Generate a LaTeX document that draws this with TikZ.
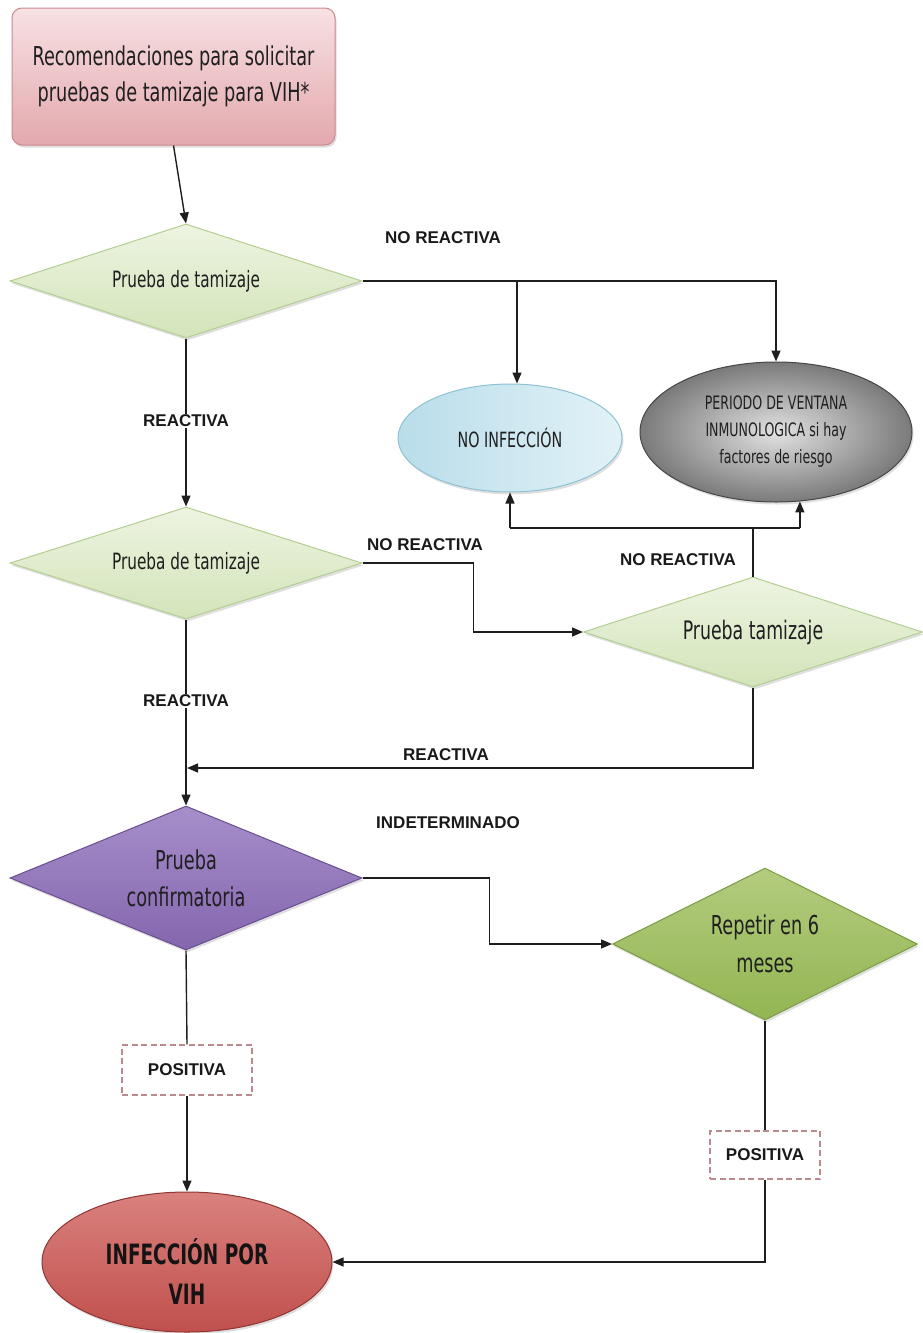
\documentclass[tikz,border=0pt]{standalone}
\usepackage{fontspec}
\setmainfont{DejaVu Sans}
\newfontfamily\condf[FakeStretch=0.68]{DejaVu Sans}
\newfontfamily\condbf[FakeStretch=0.66]{DejaVu Sans Bold}
\newfontfamily\lblf{Liberation Sans}
\usetikzlibrary{shapes.geometric,arrows.meta,shadows}
\definecolor{pinktop}{HTML}{F7E1E3}
\definecolor{pinkbot}{HTML}{E3A8AD}
\definecolor{pinkdraw}{HTML}{C98A8F}
\definecolor{gtop}{HTML}{EDF4E1}
\definecolor{gbot}{HTML}{D3E4B9}
\definecolor{gdraw}{HTML}{B4CD90}
\definecolor{btop}{HTML}{B9DDEA}
\definecolor{bbot}{HTML}{E2F2F7}
\definecolor{bdraw}{HTML}{8DC2D4}
\definecolor{greyin}{HTML}{E2E2E2}
\definecolor{greyout}{HTML}{7A7A7A}
\definecolor{greydraw}{HTML}{454545}
\definecolor{ptop}{HTML}{A68ECA}
\definecolor{pbot}{HTML}{8466AE}
\definecolor{pdraw}{HTML}{6A4F90}
\definecolor{otop}{HTML}{B3CC7E}
\definecolor{obot}{HTML}{93B552}
\definecolor{odraw}{HTML}{7A9A43}
\definecolor{rtop}{HTML}{DA817E}
\definecolor{rbot}{HTML}{C0504D}
\definecolor{rdraw}{HTML}{8F3533}
\definecolor{dashc}{HTML}{B98A8E}
\definecolor{linec}{HTML}{1E1E1E}
\begin{document}
\begin{tikzpicture}[x=1pt,y=-1pt,
  base/.style={draw, line width=1pt, inner sep=0pt, align=center, text=black!88},
  shad/.style={drop shadow={shadow xshift=1.5pt, shadow yshift=-2.5pt, opacity=0.25}},
  topbox/.style={base, shad, rectangle, rounded corners=10pt, draw=pinkdraw, top color=pinktop, bottom color=pinkbot,
     minimum width=323pt, minimum height=137pt, font={\condf\fontsize{26}{36}\selectfont}},
  gdia/.style={base, shad, diamond, aspect=3, draw=gdraw, top color=gtop, bottom color=gbot},
  pdia/.style={base, shad, diamond, aspect=3, draw=pdraw, top color=ptop, bottom color=pbot,
     font={\condf\fontsize{26}{37}\selectfont}},
  odia/.style={base, shad, diamond, aspect=2.5, draw=odraw, top color=otop, bottom color=obot,
     font={\condf\fontsize{26}{38}\selectfont}},
  blueell/.style={base, shad, ellipse, draw=bdraw, left color=btop, right color=bbot,
     font={\condf\fontsize{21}{25}\selectfont}},
  greyell/.style={base, shad, ellipse, draw=greydraw, inner color=greyin, outer color=greyout,
     font={\condf\fontsize{18.5}{27}\selectfont}},
  redell/.style={base, shad, ellipse, draw=rdraw, top color=rtop, bottom color=rbot, text=black!92},
  redtxt/.style={inner sep=0pt, align=center, font={\condbf\fontsize{28}{40}\selectfont}, text=black!92},
  dashbox/.style={rectangle, draw=dashc, line width=1.3pt, dash pattern=on 6pt off 3.5pt, fill=white,
     inner sep=0pt, font={\lblf\bfseries\fontsize{17}{19}\selectfont}, text=black!90},
  lbl/.style={inner sep=1pt, font={\lblf\bfseries\fontsize{17}{19}\selectfont}, text=black!90},
  conn/.style={draw=linec, line width=1.4pt, -{Triangle[length=11pt,width=9pt]}},
  plain/.style={draw=linec, line width=1.4pt}
]
\useasboundingbox (0,0) rectangle (922,1333);

% nodes
\node[topbox] (start) at (173.5,76.5) {Recomendaciones para solicitar\\pruebas de tamizaje para VIH*};
\node[gdia, minimum width=352pt, minimum height=114pt, font={\condf\fontsize{22.5}{26}\selectfont}] (d1) at (186,281) {Prueba de tamizaje};
\node[blueell, minimum width=224pt, minimum height=108pt] (noinf) at (510,438) {NO INFECCIÓN};
\node[greyell, minimum width=272pt, minimum height=140pt] (grey) at (776,432) {PERIODO DE VENTANA\\INMUNOLOGICA si hay\\factores de riesgo};
\node[gdia, minimum width=352pt, minimum height=112pt, font={\condf\fontsize{22.5}{26}\selectfont}] (d2) at (186,563) {Prueba de tamizaje};
\node[gdia, minimum width=339pt, minimum height=110pt, font={\condf\fontsize{25.5}{30}\selectfont}] (d3) at (753,632) {Prueba tamizaje};
\node[pdia, minimum width=352pt, minimum height=144pt] (d4) at (186,878) {Prueba\\confirmatoria};
\node[odia, minimum width=305pt, minimum height=152pt] (d5) at (765,944) {Repetir en 6\\meses};
\node[dashbox, minimum width=130pt, minimum height=50pt] (pos1) at (187,1070) {POSITIVA};
\node[dashbox, minimum width=110pt, minimum height=48pt] (pos2) at (765,1155) {POSITIVA};
\node[redell, minimum width=290pt, minimum height=140pt] (red) at (187,1262) {};
\node[redtxt] (redt) at (187,1272) {INFECCIÓN POR\\VIH};

\coordinate (h528) at (0,528);
\coordinate (m768) at (187,768);
\coordinate (br1) at (517,282);

% connectors
\draw[conn] (start.south) -- (d1.north);
\draw[conn] (d1.east) -| (grey.north);
\draw[conn] (br1) -- (br1 |- noinf.north);
\draw[conn] (d1.south) -- (d2.north);
\draw[conn] (d2.east) -- ++(111,0) |- (d3.west);
\draw[plain] (d3.north) -- (d3.north |- h528);
\draw[plain] (noinf.south |- h528) -- (grey.-71 |- h528);
\draw[conn] (noinf.south |- h528) -- (noinf.south);
\draw[conn] (grey.-71 |- h528) -- (grey.-71);
\draw[conn] (d2.south) -- (d4.north);
\draw[conn] (d3.south) |- (m768);
\draw[conn] (d4.east) -- ++(127,0) |- (d5.west);
\draw[plain] (d4.south) -- (pos1.north);
\draw[conn] (pos1.south) -- (red.north);
\draw[plain] (d5.south) -- (pos2.north);
\draw[conn] (pos2.south) |- (red.east);

% labels
\node[lbl] (l1) at (443,238) {NO REACTIVA};
\node[lbl, fill=white] (l2) at (186,421) {REACTIVA};
\node[lbl] (l3) at (425,545) {NO REACTIVA};
\node[lbl] (l4) at (678,560) {NO REACTIVA};
\node[lbl, fill=white] (l5) at (186,701) {REACTIVA};
\node[lbl] (l6) at (446,755) {REACTIVA};
\node[lbl] (l7) at (448,823) {INDETERMINADO};
\end{tikzpicture}
\end{document}
